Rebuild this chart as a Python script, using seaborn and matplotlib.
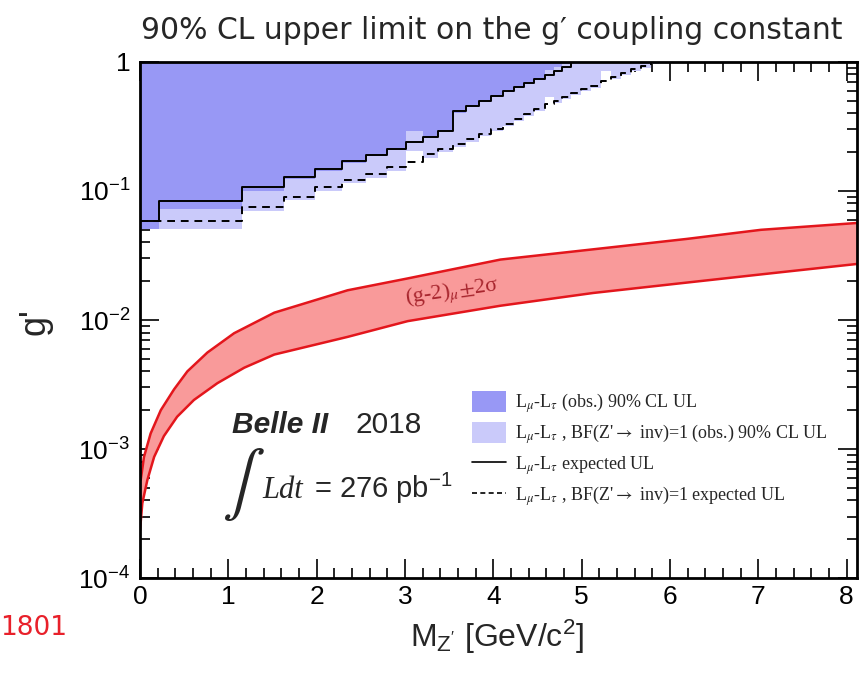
import numpy as np
import matplotlib
matplotlib.use("Agg")
import matplotlib.pyplot as plt
import seaborn as sns
from matplotlib.patches import Patch
from matplotlib.lines import Line2D
from matplotlib.ticker import FixedLocator, LogLocator, MultipleLocator, NullFormatter

# ==========================================
# DATA
# ==========================================

# bin edges of the limit histograms, M_Z' [GeV/c^2]
bin_edges = [0.0, 0.215, 1.16, 1.63, 1.98, 2.29, 2.56, 2.80, 3.01, 3.20, 3.37,
             3.54, 3.69, 3.84, 3.97, 4.11, 4.23, 4.35, 4.46, 4.58, 4.69, 4.78,
             4.88, 4.99, 5.11, 5.22, 5.33, 5.45, 5.56, 5.67, 5.79, 5.88]

# L_mu - L_tau observed 90% CL UL (dark band lower edge), first 23 bins
obs_lmu = [0.051, 0.072, 0.100, 0.124, 0.144, 0.166, 0.185, 0.207, 0.293, 0.260,
           0.290, 0.405, 0.450, 0.490, 0.540, 0.585, 0.630, 0.675, 0.730, 0.870,
           0.920, 0.960, 1.0]

# BF(Z'->inv)=1 observed 90% CL UL (light band lower edge), 31 bins
obs_inv = [0.051, 0.051, 0.070, 0.085, 0.100, 0.115, 0.127, 0.143, 0.205, 0.180,
           0.200, 0.220, 0.240, 0.265, 0.290, 0.318, 0.348, 0.380, 0.415, 0.537,
           0.480, 0.515, 0.550, 0.595, 0.630, 0.856, 0.740, 0.790, 0.850, 0.900,
           0.960]

# L_mu - L_tau expected UL (solid), first 23 bins
exp_lmu = [0.0586, 0.0837, 0.1065, 0.129, 0.149, 0.171, 0.190, 0.211, 0.238, 0.263,
           0.293, 0.414, 0.458, 0.500, 0.548, 0.592, 0.636, 0.683, 0.738, 0.797,
           0.856, 0.920, 1.0]

# BF(Z'->inv)=1 expected UL (dashed), 31 bins
exp_inv = [0.0586, 0.0586, 0.0757, 0.0905, 0.107, 0.121, 0.135, 0.152, 0.169, 0.193,
           0.211, 0.231, 0.252, 0.276, 0.302, 0.330, 0.361, 0.395, 0.431, 0.472,
           0.500, 0.537, 0.571, 0.617, 0.655, 0.716, 0.769, 0.817, 0.882, 0.936,
           1.0]

# (g-2)_mu +- 2 sigma band
g2_up_x = [0.008, 0.045, 0.12, 0.235, 0.385, 0.536, 0.763, 1.065, 1.52, 2.35,
           3.03, 4.08, 5.13, 6.19, 7.03, 8.12]
g2_up_y = [5.75e-4, 8.7e-4, 1.32e-3, 2.0e-3, 2.9e-3, 4.0e-3, 5.6e-3, 7.9e-3,
           1.14e-2, 1.70e-2, 2.10e-2, 2.94e-2, 3.53e-2, 4.25e-2, 5.0e-2, 5.65e-2]
g2_lo_x = [0.0, 0.026, 0.083, 0.16, 0.27, 0.42, 0.61, 0.876, 1.18, 1.52, 2.35,
           3.03, 4.08, 5.13, 6.19, 7.24, 8.12]
g2_lo_y = [2.35e-4, 3.8e-4, 5.75e-4, 8.7e-4, 1.26e-3, 1.78e-3, 2.4e-3, 3.24e-3,
           4.27e-3, 5.4e-3, 7.4e-3, 9.8e-3, 1.29e-2, 1.62e-2, 1.95e-2, 2.34e-2,
           2.72e-2]

y_ticks = [1e-4, 1e-3, 1e-2, 1e-1, 1]
y_tick_labels = ["$10^{-4}$", "$10^{-3}$", "$10^{-2}$", "$10^{-1}$", "1"]

legend_labels = [
    r"L$_{\mu}$-L$_{\tau}$ (obs.) 90% CL UL",
    r"L$_{\mu}$-L$_{\tau}$ , BF(Z'$\rightarrow$ inv)=1 (obs.) 90% CL UL",
    r"L$_{\mu}$-L$_{\tau}$ expected UL",
    r"L$_{\mu}$-L$_{\tau}$ , BF(Z'$\rightarrow$ inv)=1 expected UL",
]

DARK = "#9898f5"
LIGHT = "#cacafa"
RED = "#e3161c"
RED_FILL = "#f99a9a"

# ==========================================
# STYLE
# ==========================================

sns.set_theme(style="ticks")
plt.rcParams["font.family"] = ["Liberation Sans", "DejaVu Sans"]
plt.rcParams["mathtext.fontset"] = "custom"
plt.rcParams["mathtext.rm"] = "Liberation Sans"
plt.rcParams["mathtext.it"] = "Liberation Sans:italic"
plt.rcParams["mathtext.bf"] = "Liberation Sans:bold"


def steps(vals):
    n = len(vals)
    xs = np.array(bin_edges[: n + 1])
    ys = np.append(np.array(vals), vals[-1])
    return xs, ys


fig = plt.figure(figsize=(8.59, 6.73), dpi=100)
ax = fig.add_axes([0.163, 0.141, 0.835, 0.767])

# ==========================================
# EXCLUSION REGIONS
# ==========================================

x_inv, y_inv = steps(obs_inv)
ax.fill_between(x_inv, y_inv, 2.0, step="post", color=LIGHT, lw=0)
x_lmu, y_lmu = steps(obs_lmu)
ax.fill_between(x_lmu, y_lmu, 2.0, step="post", color=DARK, lw=0)

xs, ys = steps(exp_lmu)
sns.lineplot(x=xs, y=ys, ax=ax, color="black", lw=1.4, drawstyle="steps-post",
             sort=False, estimator=None)
xs, ys = steps(exp_inv)
sns.lineplot(x=xs, y=ys, ax=ax, color="black", lw=1.4, drawstyle="steps-post",
             sort=False, estimator=None, linestyle=(0, (4, 3)))

# ==========================================
# (g-2) BAND
# ==========================================

band_x = np.concatenate([g2_up_x, g2_lo_x[::-1]])
band_y = np.concatenate([g2_up_y, g2_lo_y[::-1]])
ax.fill(band_x, band_y, color=RED_FILL, lw=0)
sns.lineplot(x=g2_up_x, y=g2_up_y, ax=ax, color=RED, lw=1.8, sort=False, estimator=None)
sns.lineplot(x=g2_lo_x, y=g2_lo_y, ax=ax, color=RED, lw=1.8, sort=False, estimator=None)

# ==========================================
# AXES
# ==========================================

ax.set_yscale("log")
ax.set_xlim(0, 8.12)
ax.set_ylim(1e-4, 1)
ax.yaxis.set_major_locator(FixedLocator(y_ticks))
ax.set_yticklabels(y_tick_labels)
ax.yaxis.set_minor_locator(LogLocator(base=10, subs=np.arange(2, 10)))
ax.yaxis.set_minor_formatter(NullFormatter())
ax.xaxis.set_major_locator(MultipleLocator(1))
ax.xaxis.set_minor_locator(MultipleLocator(0.2))
ax.tick_params(which="both", direction="in", top=True, right=True, width=1.2,
               labelsize=19, colors="black")
ax.tick_params(which="major", length=14, pad=7)
ax.tick_params(axis="x", which="major", pad=5)
ax.tick_params(which="minor", length=7)
for s in ax.spines.values():
    s.set_linewidth(2)
    s.set_color("black")

# ==========================================
# LEGEND
# ==========================================

handles = [
    Patch(facecolor=DARK, edgecolor="none"),
    Patch(facecolor=LIGHT, edgecolor="none"),
    Line2D([], [], color="black", lw=1.2),
    Line2D([], [], color="black", lw=1.2, linestyle=(0, (3, 2))),
]
leg = ax.legend(handles, legend_labels, loc="upper left", bbox_to_anchor=(0.463, 0.362),
                frameon=False, borderpad=0, borderaxespad=0, handlelength=1.85,
                handleheight=1.4, handletextpad=0.55, labelspacing=0.4,
                prop={"family": "Liberation Serif", "size": 13})
for t in leg.get_texts():
    t.set_math_fontfamily("stix")

# ==========================================
# TEXT
# ==========================================

ax.text(0.128, 0.281, "Belle II", transform=ax.transAxes, fontsize=21.5,
        fontweight="bold", fontstyle="italic", va="baseline")
ax.text(0.300, 0.281, "2018", transform=ax.transAxes, fontsize=21.5, va="baseline")
ax.text(0.144, 0.182, r"$\int$", transform=ax.transAxes, fontsize=46,
        ha="center", va="center", math_fontfamily="stix")
ax.text(0.170, 0.155, "Ldt", transform=ax.transAxes, fontsize=22,
        family="Liberation Serif", fontstyle="italic", va="baseline")
ax.text(0.243, 0.155, r"= 276 pb$^{\mathregular{-1}}$", transform=ax.transAxes,
        fontsize=21, va="baseline")
ax.text(0.435, 0.554, r"(g-2)$_{\mu}$$\pm$2σ", transform=ax.transAxes, fontsize=16,
        family="Liberation Serif", color="#a8262e", ha="center", va="center",
        rotation=8, math_fontfamily="stix")

fig.text(0.579, 0.038, r"M$_{\mathrm{Z'}}$ [GeV/c$^{2}$]", fontsize=23,
         ha="center", va="baseline")
fig.text(0.041, 0.522, "g'", fontsize=26, rotation=90, ha="center", va="center")
fig.text(0.573, 0.955, "90% CL upper limit on the g\u2032 coupling constant",
         fontsize=21.5, family="DejaVu Sans", ha="center", va="center")
fig.text(0.0, 0.067, "1801", fontsize=19, family="DejaVu Sans", color="#e8202a",
         ha="left", va="center")

fig.savefig("out.png", dpi=100)
